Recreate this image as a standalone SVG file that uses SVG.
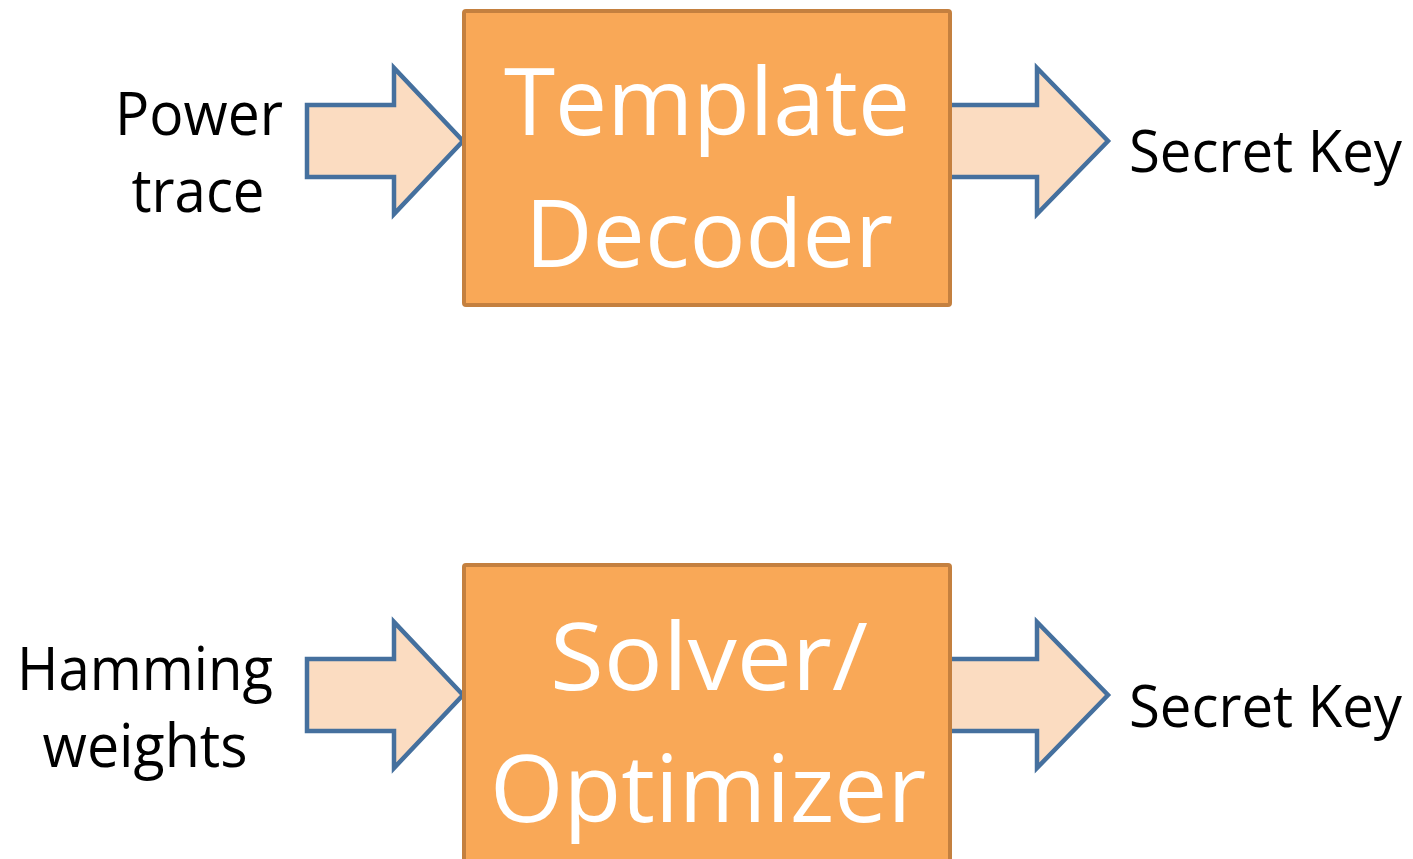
<svg xmlns="http://www.w3.org/2000/svg" width="1413" height="859" viewBox="0 0 1413 859">
  <style>
    .box { fill: #F9A857; stroke: #C4803F; stroke-width: 4; }
    .arrow { fill: #FBDCC1; stroke: #45709E; stroke-width: 4.5; stroke-linejoin: miter; }
    .lbl { font-family: "Open Sans", "Noto Sans", "Liberation Sans", sans-serif; font-size: 60px; fill: #000; text-anchor: middle; }
    .key { font-family: "Open Sans", "Noto Sans", "Liberation Sans", sans-serif; font-size: 59px; fill: #000; text-anchor: end; }
    .big { font-family: "Open Sans", "Noto Sans", "Liberation Sans", sans-serif; font-size: 93px; fill: #FFFFFF; text-anchor: middle; }
  </style>
  <rect width="1413" height="859" fill="#FFFFFF"/>

  <!-- block arrows feeding into and out of each stage -->
  <g id="connectors">
    <polygon id="in-top" class="arrow" points="307,105 394,105 394,68 463,141 394,214 394,177 307,177"/>
    <polygon id="out-top" class="arrow" points="948,105 1037,105 1037,68 1108,141 1037,214 1037,177 948,177"/>
    <polygon id="in-bottom" class="arrow" points="307,659 394,659 394,622 463,695 394,768 394,731 307,731"/>
    <polygon id="out-bottom" class="arrow" points="948,659 1037,659 1037,622 1108,695 1037,768 1037,731 948,731"/>
  </g>

  <g id="template-decoder">
    <rect class="box" x="464" y="11" width="486" height="294" rx="2"/>
    <text class="big" x="707" y="135" textLength="406" lengthAdjust="spacingAndGlyphs">Template</text>
    <text class="big" x="709" y="267" textLength="368" lengthAdjust="spacingAndGlyphs">Decoder</text>
  </g>

  <g id="solver-optimizer">
    <rect class="box" x="464" y="565" width="486" height="300" rx="2"/>
    <text class="big" x="709" y="690" textLength="318" lengthAdjust="spacingAndGlyphs">Solver/</text>
    <text class="big" x="708" y="822" textLength="436" lengthAdjust="spacingAndGlyphs">Optimizer</text>
  </g>

  <g id="power-trace">
    <text class="lbl" x="199" y="135" textLength="168" lengthAdjust="spacingAndGlyphs">Power</text>
    <text class="lbl" x="198" y="212" textLength="133" lengthAdjust="spacingAndGlyphs">trace</text>
  </g>

  <g id="hamming-weights">
    <text class="lbl" x="145" y="690" textLength="256" lengthAdjust="spacingAndGlyphs">Hamming</text>
    <text class="lbl" x="145" y="767" textLength="205" lengthAdjust="spacingAndGlyphs">weights</text>
  </g>

  <g id="secret-key-top">
    <text class="key" x="1402" y="172" textLength="273" lengthAdjust="spacingAndGlyphs">Secret Key</text>
  </g>

  <g id="secret-key-bottom">
    <text class="key" x="1402" y="727" textLength="273" lengthAdjust="spacingAndGlyphs">Secret Key</text>
  </g>
</svg>
